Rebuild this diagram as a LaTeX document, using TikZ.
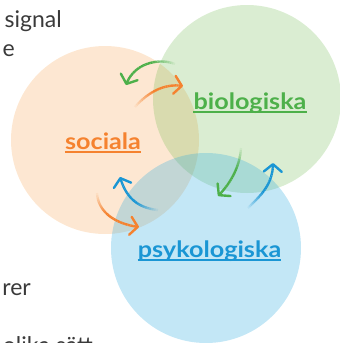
\documentclass[tikz,border=0pt]{standalone}
\usepackage{fontspec}
\setmainfont{Lato}
\newfontfamily\labfont{Lato}[FakeStretch=1.12]
\usetikzlibrary{arrows.meta}
\definecolor{ofill}{HTML}{F7A14B}
\definecolor{gfill}{HTML}{6DB84A}
\definecolor{bfill}{HTML}{29A8DE}
\definecolor{otext}{HTML}{F5822F}
\definecolor{gtext}{HTML}{4DB04A}
\definecolor{btext}{HTML}{1A96D4}
\definecolor{bodygray}{HTML}{3A3A3A}
\newcommand\fadearr[6]{%
  \path (#2) .. controls (#3) and (#4) .. (#5)
    foreach \ii in {0,...,24} { coordinate[pos=\ii/24] (#6-\ii) };
  \foreach \ii in {0,...,22}{%
    \pgfmathtruncatemacro\jj{\ii+1}%
    \pgfmathsetmacro\oo{min(1,(\ii+1)/11)}%
    \draw[#1, line width=2.4pt, draw opacity=\oo] (#6-\ii) -- (#6-\jj);}
  \draw[#1, line width=2.4pt, -{Straight Barb[length=7.5pt,width=18pt,round]}] (#6-23) -- (#6-24);
}
\begin{document}
\begin{tikzpicture}[x=1pt,y=-1pt,
  lab/.style={font=\labfont\bfseries\fontsize{22.5}{26}\selectfont, inner sep=0pt, anchor=base},
  body/.style={font=\fontsize{23}{28}\selectfont, text=bodygray, inner sep=0pt, anchor=base east},
  circ/.style={fill opacity=0.25}]
\useasboundingbox (0,0) rectangle (340,343);
\clip (0,0) rectangle (340,343);
% body text fragments
\node[body] (t1) at (62,27) {signal};
\node[body] (t2) at (15,56) {e};
\node[body] (t3) at (31,295) {rer};
\node[body] (t4) at (93,353) {olika sätt};
% circles
\fill[ofill, circ] (105,140) circle (94);
\fill[gfill, circ] (247,99) circle (94);
\fill[bfill, fill opacity=0.28] (206,248) circle (95);
% labels
\node[lab, text=otext] (soc) at (103,149) {sociala};
\node[lab, text=gtext] (bio) at (250,109) {biologiska};
\node[lab, text=btext] (psy) at (209.5,257) {psykologiska};
\draw[otext, line width=1.3pt] ([yshift=-3pt]soc.base west) -- ([yshift=-3pt]soc.base east);
\draw[gtext, line width=1.3pt] ([yshift=-3pt]bio.base west) -- ([yshift=-3pt]bio.base east);
\draw[btext, line width=1.3pt] ([yshift=-3pt]psy.base west) -- ([yshift=-3pt]psy.base east);
% arrows
\coordinate (a1s) at (175,64); \coordinate (a1e) at (126,85);
\coordinate (a2s) at (135,107); \coordinate (a2e) at (183,86);
\coordinate (a3s) at (241,148); \coordinate (a3e) at (218,196);
\coordinate (a4s) at (248,208); \coordinate (a4e) at (273,163);
\coordinate (a5s) at (158,210); \coordinate (a5e) at (120,177);
\coordinate (a6s) at (97,193); \coordinate (a6e) at (139,227);
\fadearr{gtext}{a1s}{160,58}{134,62}{a1e}{ga}
\fadearr{otext}{a2s}{148,92}{165,83}{a2e}{oa}
\fadearr{gtext}{a3s}{240,165}{232,182}{a3e}{gb}
\fadearr{btext}{a4s}{260,196}{273,185}{a4e}{ba}
\fadearr{btext}{a5s}{138,208}{126,198}{a5e}{bb}
\fadearr{otext}{a6s}{98,212}{115,224}{a6e}{ob}
\end{tikzpicture}
\end{document}
